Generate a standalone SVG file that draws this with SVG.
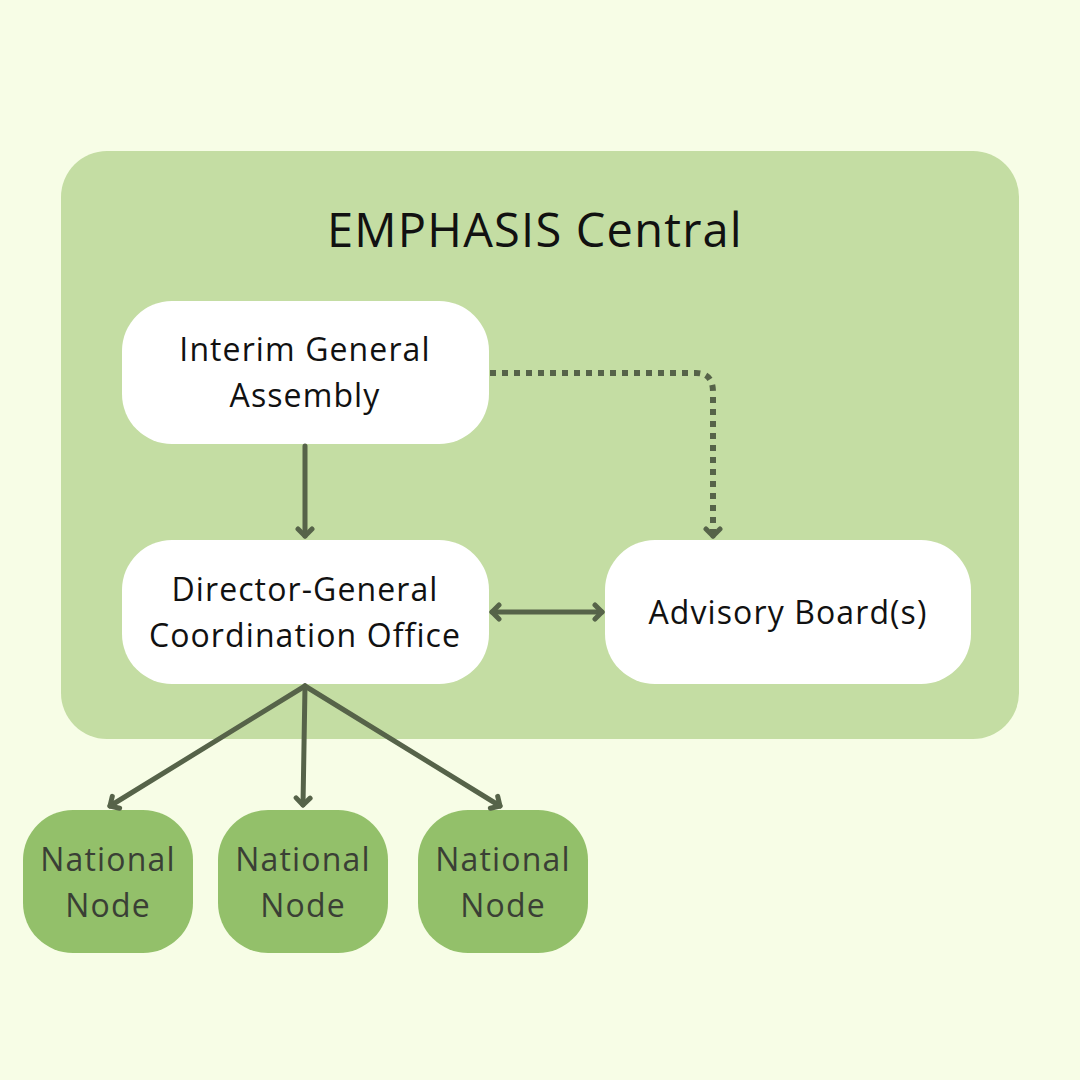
<svg xmlns="http://www.w3.org/2000/svg" width="1080" height="1080" viewBox="0 0 1080 1080">
<defs>
<marker id="chev" viewBox="-10 -10 20 20" markerWidth="20" markerHeight="20" markerUnits="userSpaceOnUse" refX="0" refY="0" orient="auto-start-reverse">
<polyline points="-7,-7 0,0 -7,7" fill="none" stroke="#566349" stroke-width="5" stroke-linecap="round" stroke-linejoin="round"/>
</marker>
</defs>
<style>
.box{fill:#ffffff}
.nat{fill:#93c06a}
.t{font-family:"Open Sans","Noto Sans",sans-serif;font-size:32px;letter-spacing:1.1px;fill:#111111;text-anchor:middle}
.tn{font-family:"Open Sans","Noto Sans",sans-serif;font-size:32px;letter-spacing:1.2px;fill:#3a3f35;text-anchor:middle}
.c{fill:none;stroke:#566349;stroke-width:5;stroke-linecap:round}
</style>
<rect width="1080" height="1080" fill="#f7fde6"/>
<g id="central">
<rect x="61" y="151" width="958" height="588" rx="46" fill="#c4dda3"/>
<text x="535" y="247" font-family="Open Sans, Noto Sans, sans-serif" font-size="47" letter-spacing="1.2" fill="#111111" text-anchor="middle">EMPHASIS Central</text>
</g>
<g id="iga">
<rect class="box" x="122" y="301" width="367" height="143" rx="50"/>
<text class="t" x="305" y="361">Interim General</text>
<text class="t" x="305" y="407">Assembly</text>
</g>
<g id="dg">
<rect class="box" x="122" y="540" width="367" height="144" rx="50"/>
<text class="t" x="305" y="601">Director-General</text>
<text class="t" x="305" y="647">Coordination Office</text>
</g>
<g id="adv">
<rect class="box" x="605" y="540" width="366" height="144" rx="50"/>
<text class="t" x="788" y="624">Advisory Board(s)</text>
</g>
<g id="nn1">
<rect class="nat" x="23" y="810" width="170" height="143" rx="50"/>
<text class="tn" x="108" y="871">National</text>
<text class="tn" x="108" y="917">Node</text>
</g>
<g id="nn2">
<rect class="nat" x="218" y="810" width="170" height="143" rx="50"/>
<text class="tn" x="303" y="871">National</text>
<text class="tn" x="303" y="917">Node</text>
</g>
<g id="nn3">
<rect class="nat" x="418" y="810" width="170" height="143" rx="50"/>
<text class="tn" x="503" y="871">National</text>
<text class="tn" x="503" y="917">Node</text>
</g>
<g id="connectors">
<path class="c" d="M305,446 V536" marker-end="url(#chev)"/>
<path d="M490,373 H696 Q713,373 713,392 V534" fill="none" stroke="#566349" stroke-width="6" stroke-dasharray="6,6"/>
<path class="c" d="M713,534 V536" marker-end="url(#chev)" stroke="none"/>
<path class="c" d="M492,612 H602" marker-start="url(#chev)" marker-end="url(#chev)"/>
<path class="c" d="M305,686 L110,806" marker-end="url(#chev)"/>
<path class="c" d="M305,686 L303,805" marker-end="url(#chev)"/>
<path class="c" d="M305,686 L500,806" marker-end="url(#chev)"/>
</g>
</svg>
